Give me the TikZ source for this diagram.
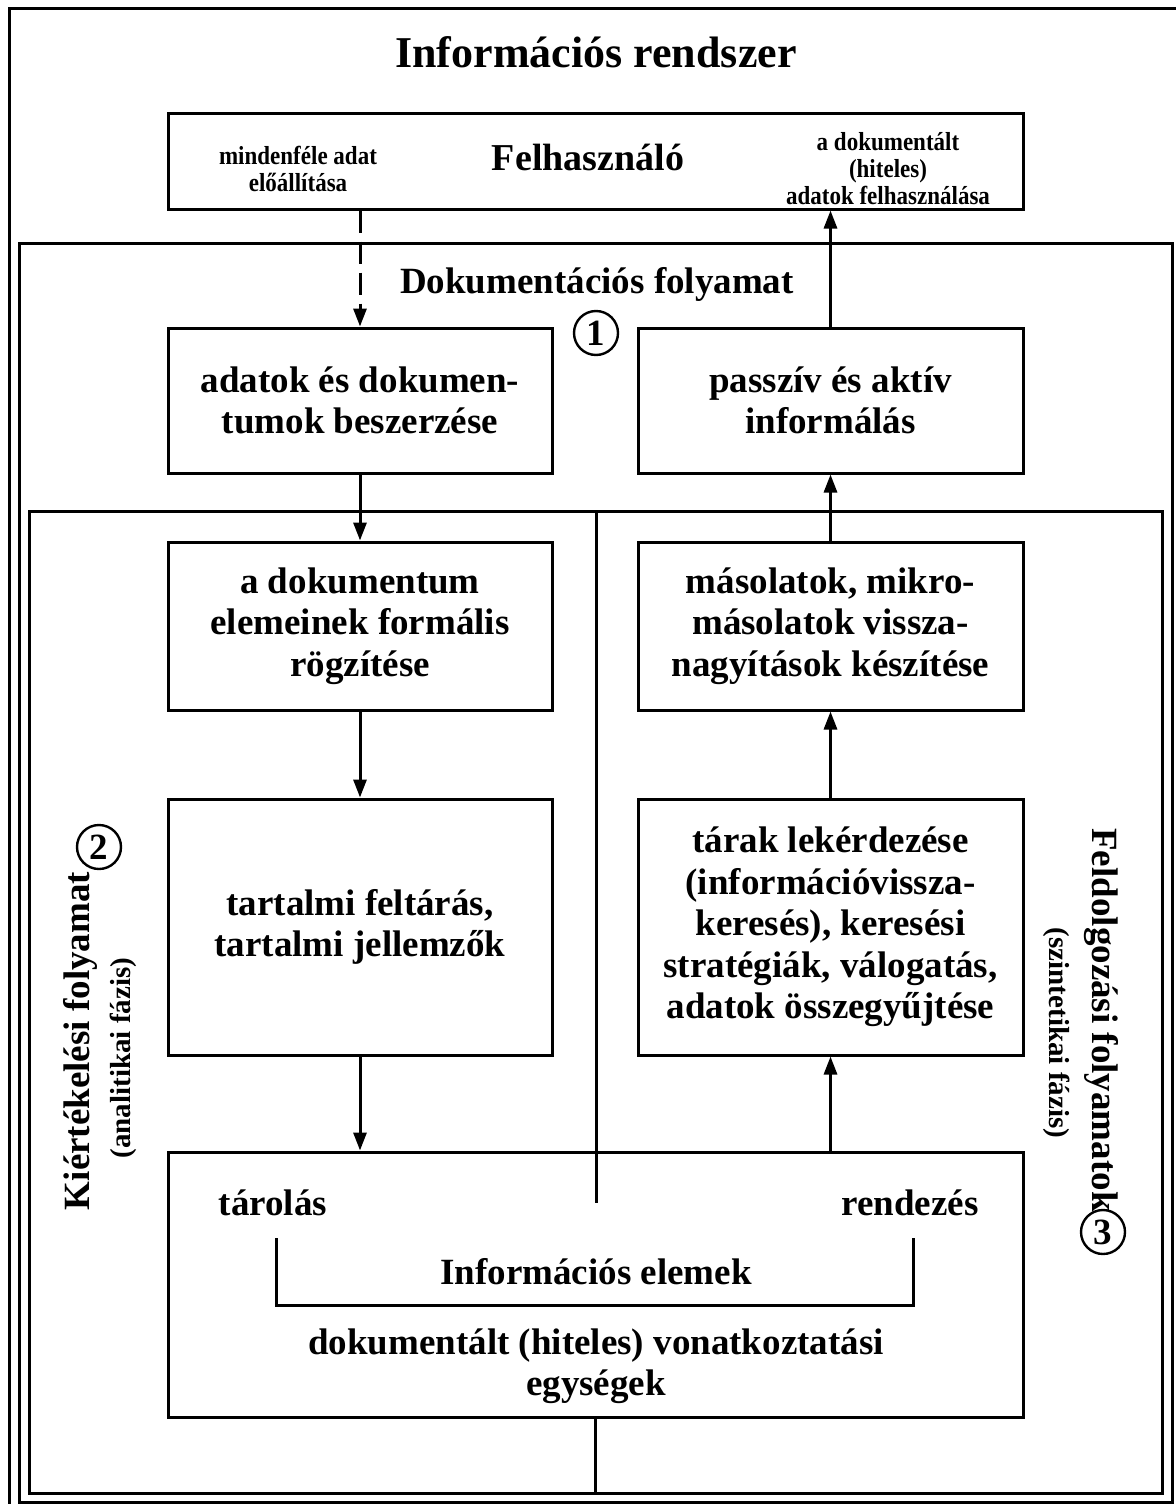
\documentclass[tikz,border=0pt]{standalone}
\usepackage{fontspec}
\setmainfont{Liberation Serif}
\usetikzlibrary{arrows.meta,calc}
\begin{document}
\begin{tikzpicture}[x=0.5pt,y=-0.5pt,
  line width=1.5pt,
  box/.style={draw,line width=1.5pt,align=center,inner sep=0pt,
    font=\fontsize{18.5}{20.75}\selectfont\bfseries},
  arr/.style={-{Triangle[length=9pt,width=6.5pt]},line width=1.5pt},
  num/.style={draw,circle,minimum size=22pt,inner sep=0pt,line width=1.2pt,
    font=\fontsize{18.5}{20}\selectfont\bfseries},
  big/.style={font=\fontsize{18.5}{20.75}\selectfont\bfseries,align=center,inner sep=0pt},
  small/.style={font=\fontsize{13}{13.5}\selectfont\bfseries,align=center,inner sep=0pt,xscale=0.885},
  sub/.style={font=\fontsize{14.5}{16}\selectfont\bfseries,inner sep=0pt},
]
\useasboundingbox (0,0) rectangle (1176,1504);

% frames
\draw (9,1504) -- (9,9) -- (1176,9);
\draw (19,243) rectangle (1172,1502);
\draw (29,511) rectangle (1162,1493);
\coordinate (f3bot) at (596,1493);

% title
\node[font=\fontsize{22}{24}\selectfont\bfseries,inner sep=0pt] (title) at (596,52) {Információs rendszer};

% user box
\node[draw,minimum width=427.5pt,minimum height=47.5pt,inner sep=0pt] (felh) at (595.5,161.5) {};
\node[font=\fontsize{19}{21}\selectfont\bfseries,inner sep=0pt] (felhtxt) at (588,157) {Felhasználó};
\node[small] (prod) at (298,169) {mindenféle adat\\előállítása};
\node[small] (use) at (888,169) {a dokumentált\\(hiteles)\\adatok felhasználása};

% documentation process
\node[big] (doc) at (597,284) {Dokumentációs folyamat};
\node[num] (n1) at (596,333) {1};

\node[box,minimum width=192pt,minimum height=72.5pt] (b1) at (360,400.5) {adatok és dokumen-\\tumok beszerzése};
\node[box,minimum width=192.5pt,minimum height=72.5pt] (b2) at (830.5,400.5) {passzív és aktív\\informálás};
\node[box,minimum width=192pt,minimum height=84pt] (b3) at (360,626) {a dokumentum\\elemeinek formális\\rögzítése};
\node[box,minimum width=192.5pt,minimum height=84pt] (b4) at (830.5,626) {másolatok, mikro-\\másolatok vissza-\\nagyítások készítése};
\node[box,minimum width=192pt,minimum height=128pt] (b5) at (360,927) {tartalmi feltárás,\\tartalmi jellemzők};
\node[box,minimum width=192.5pt,minimum height=128pt] (b6) at (830.5,927) {tárak lekérdezése\\(információvissza-\\keresés), keresési\\stratégiák, válogatás,\\adatok összegyűjtése};
\node[box,minimum width=427.5pt,minimum height=132.5pt] (b7) at (595.5,1284.5) {};

% contents of the bottom box
\node[big] (store) at (273,1203) {tárolás};
\node[big] (order) at (910,1203) {rendezés};
\node[big] (elem) at (596,1272) {Információs elemek};
\node[big] (unit) at (596,1366) {dokumentált (hiteles) vonatkoztatási\\egységek};
\draw (276,1238) -- (276,1305) -- (913,1305) -- (913,1238);

% divider between the two processes
\coordinate (divtop) at (596,511);
\coordinate (divbot) at (596,1203);
\draw (divtop) -- (divbot);
\draw (b7.south) -- (b7.south |- f3bot);

% side labels
\node[big,rotate=90] (evalL) at (80,1041) {Kiértékelési folyamat};
\node[sub,rotate=90] (evalS) at (123,1058) {(analitikai fázis)};
\node[num] (n2) at (99,847) {2};
\node[big,rotate=-90] (procL) at (1101,1020) {Feldolgozási folyamatok};
\node[sub,rotate=-90] (procS) at (1057,1033) {(szintetikai fázis)};
\node[num] (n3) at (1103,1232) {3};

% connectors
\draw[arr,dash pattern=on 11pt off 4.5pt] (felh.south -| b1.north) -- (b1.north);
\draw[arr] (b1.south) -- (b3.north);
\draw[arr] (b3.south) -- (b5.north);
\draw[arr] (b5.south) -- (b7.north -| b5.south);
\draw[arr] (b7.north -| b6.south) -- (b6.south);
\draw[arr] (b6.north) -- (b4.south);
\draw[arr] (b4.north) -- (b2.south);
\draw[arr] (b2.north) -- (felh.south -| b2.north);
\end{tikzpicture}
\end{document}
